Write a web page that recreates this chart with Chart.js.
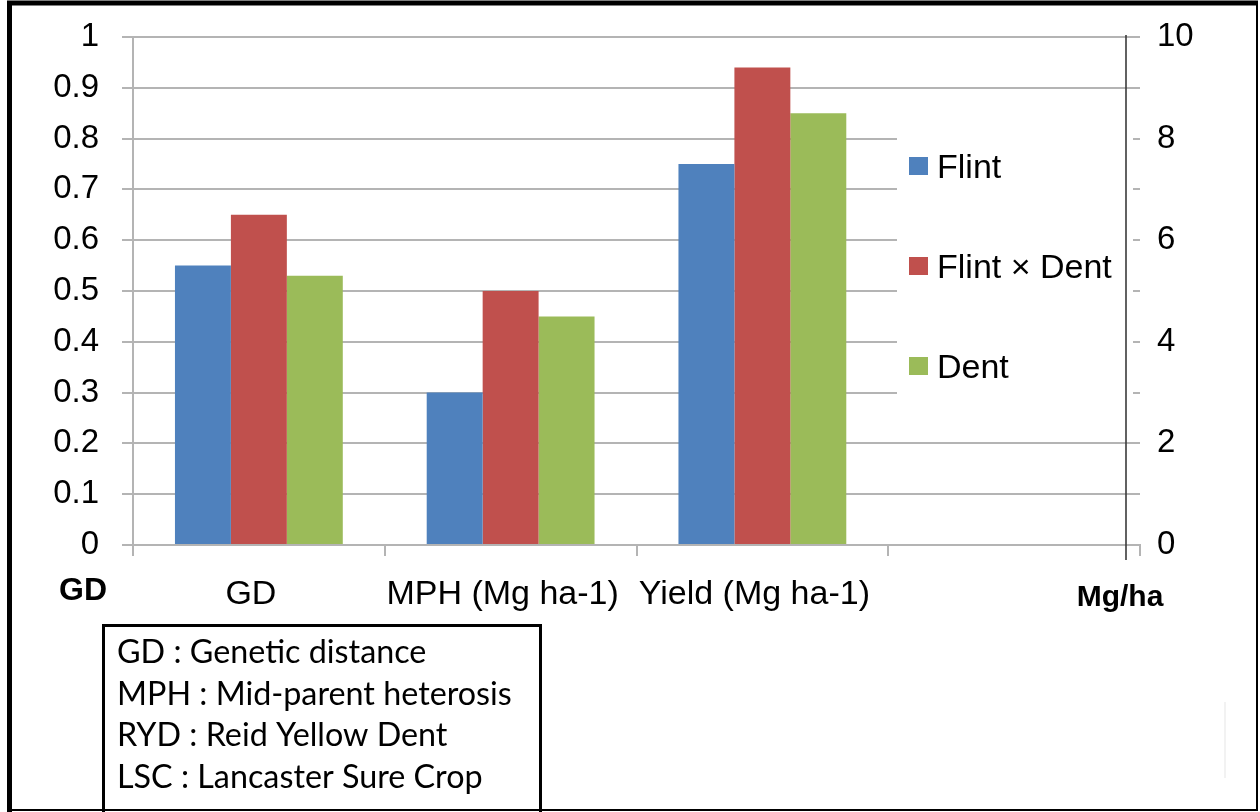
<!DOCTYPE html>
<html>
<head>
<meta charset="utf-8">
<script src="https://cdn.jsdelivr.net/npm/chart.js@4.4.0/dist/chart.umd.min.js"></script>
<style>
  html, body { margin: 0; padding: 0; background: #fff; overflow: hidden; }
  #wrap { width: 1260px; height: 812px; position: relative; }
</style>
</head>
<body>
<div id="wrap"><canvas id="c" width="1260" height="812"></canvas></div>
<script>
// Categories along the bottom axis (the fourth slot is left empty)
const categories = ['GD', 'MPH (Mg ha-1)', 'Yield (Mg ha-1)', ''];

// Series names and values (left axis units: GD 0–1, Mg/ha shown ÷10)
const seriesNames = ['Flint', 'Flint × Dent', 'Dent'];
const flintValues = [0.55, 0.30, 0.75, null];
const flintDentValues = [0.65, 0.50, 0.94, null];
const dentValues = [0.53, 0.45, 0.85, null];

// Axis titles and the abbreviation notes
const leftAxisTitle = 'GD';
const rightAxisTitle = 'Mg/ha';
const notes = [
  'GD : Genetic distance',
  'MPH : Mid-parent heterosis',
  'RYD : Reid Yellow Dent',
  'LSC : Lancaster Sure Crop'
];

const seriesColors = ['#4F81BD', '#C0504D', '#9BBB59'];
const AXIS_FONT = '"Liberation Sans", Arial, sans-serif';
const NOTE_FONT = 'Lato, "Open Sans", sans-serif';
const GRID = '#b4b4b4';

const decorations = {
  id: 'decorations',
  beforeDraw(chart) {
    const ctx = chart.ctx;
    ctx.save();
    ctx.fillStyle = '#ffffff';
    ctx.fillRect(0, 0, chart.width, chart.height);
    ctx.restore();
  },
  afterDraw(chart) {
    const ctx = chart.ctx;
    const area = chart.chartArea;
    ctx.save();

    // legend panel on top of the gridlines
    ctx.fillStyle = '#ffffff';
    ctx.fillRect(897, 112, 236, 308);
    ctx.font = '34px ' + AXIS_FONT;
    ctx.textBaseline = 'alphabetic';
    ctx.textAlign = 'left';
    chart.data.datasets.forEach((ds, i) => {
      const cy = 166 + i * 100;
      ctx.fillStyle = ds.backgroundColor;
      ctx.fillRect(909, cy - 9, 19, 18);
      ctx.fillStyle = '#000';
      ctx.fillText(ds.label, 937, cy + 12);
    });

    // secondary axis line
    ctx.strokeStyle = '#3a3a3a';
    ctx.lineWidth = 1.6;
    ctx.beginPath();
    ctx.moveTo(area.right - 14, area.top - 2);
    ctx.lineTo(area.right - 14, area.bottom + 15);
    ctx.stroke();

    // axis unit titles
    ctx.fillStyle = '#000';
    ctx.textAlign = 'center';
    ctx.font = 'bold 32px ' + AXIS_FONT;
    ctx.fillText(leftAxisTitle, 83, 600);
    ctx.font = 'bold 30px ' + AXIS_FONT;
    ctx.fillText(rightAxisTitle, 1120, 606);

    // notes box
    ctx.strokeStyle = '#000';
    ctx.lineWidth = 3;
    ctx.strokeRect(103.5, 625.5, 437, 200);
    ctx.font = '100px ' + NOTE_FONT;
    const ref = ctx.measureText(notes[1]).width;
    const size = 100 * 395 / ref;
    ctx.font = size.toFixed(2) + 'px ' + NOTE_FONT;
    ctx.textAlign = 'left';
    notes.forEach((t, i) => ctx.fillText(t, 117, 663 + i * 41.7));

    // faint mark near the lower right corner
    ctx.strokeStyle = '#eeeeee';
    ctx.lineWidth = 1.5;
    ctx.beginPath();
    ctx.moveTo(1225, 702);
    ctx.lineTo(1225, 778);
    ctx.stroke();

    // outer frame
    ctx.strokeStyle = '#000';
    ctx.lineWidth = 5;
    ctx.beginPath();
    ctx.moveTo(9.5, 812); ctx.lineTo(9.5, 3); ctx.lineTo(1258, 3);
    ctx.stroke();
    ctx.lineWidth = 2;
    ctx.beginPath();
    ctx.moveTo(1257, 3); ctx.lineTo(1257, 810); ctx.lineTo(9, 810);
    ctx.stroke();

    ctx.restore();
  }
};

// vertical axes: fixed width, no extra label overhang padding
const fitVertical = (w) => (scale) => {
  scale.width = w;
  scale.paddingTop = 0;
  scale.paddingBottom = 0;
};

new Chart(document.getElementById('c'), {
  type: 'bar',
  data: {
    labels: categories,
    datasets: [
      { label: seriesNames[0], data: flintValues, backgroundColor: seriesColors[0], yAxisID: 'y' },
      { label: seriesNames[1], data: flintDentValues, backgroundColor: seriesColors[1], yAxisID: 'y' },
      { label: seriesNames[2], data: dentValues, backgroundColor: seriesColors[2], yAxisID: 'y' }
    ]
  },
  options: {
    responsive: false,
    animation: false,
    devicePixelRatio: 1,
    layout: { padding: { top: 37, left: 0, right: 0, bottom: 187 } },
    datasets: { bar: { barPercentage: 1, categoryPercentage: 2 / 3, borderWidth: 0 } },
    plugins: { legend: { display: false }, tooltip: { enabled: false } },
    scales: {
      x: {
        type: 'category',
        offset: true,
        grid: { offset: true, drawOnChartArea: false, drawTicks: true, tickLength: 11, color: GRID, lineWidth: 2 },
        border: { color: GRID, width: 2 },
        ticks: { color: '#000', font: { family: AXIS_FONT, size: 34 }, padding: 18, labelOffset: -8, maxRotation: 0, autoSkip: false },
        afterFit(scale) { scale.height = 80; scale.paddingLeft = 0; scale.paddingRight = 0; }
      },
      y: {
        position: 'left',
        min: 0, max: 1,
        ticks: {
          stepSize: 0.1, color: '#000', font: { family: AXIS_FONT, size: 33 }, padding: 23,
          callback: (v) => String(Number(v.toFixed(1)))
        },
        grid: { color: GRID, lineWidth: 2, tickLength: 11, drawTicks: true },
        border: { color: GRID, width: 2 },
        afterFit: fitVertical(133)
      },
      y2: {
        position: 'right',
        min: 0, max: 10,
        ticks: { stepSize: 2, color: '#000', font: { family: AXIS_FONT, size: 33 }, padding: 17 },
        grid: { display: false, drawTicks: false },
        border: { display: false },
        afterFit: fitVertical(120)
      }
    }
  },
  plugins: [decorations]
});
</script>
</body>
</html>
